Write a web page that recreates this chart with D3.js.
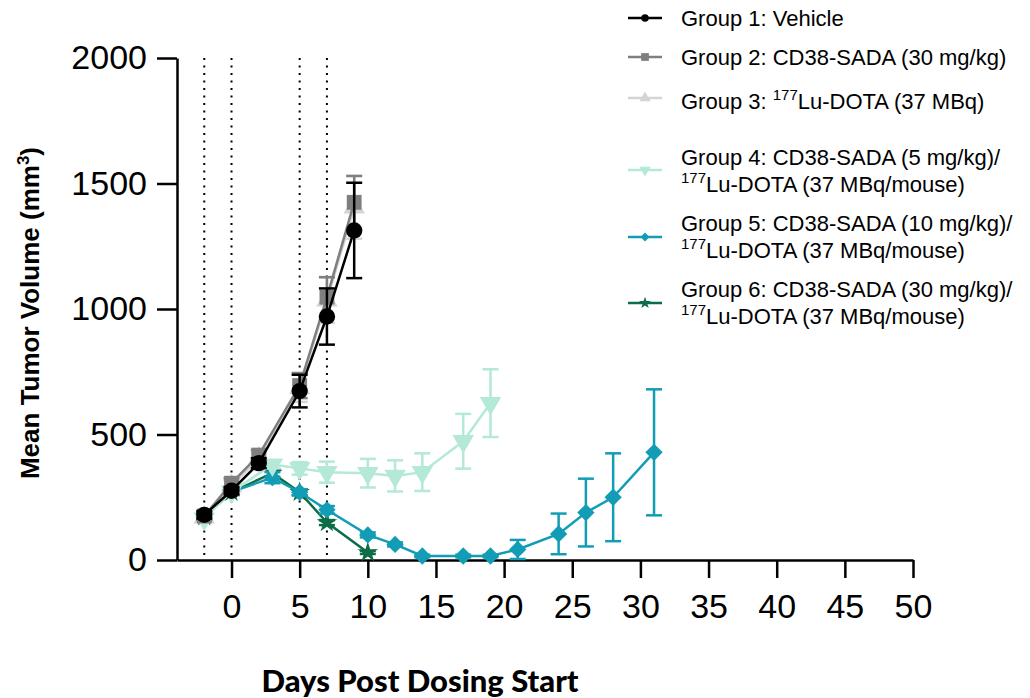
<!DOCTYPE html>
<html lang="en">
<head>
<meta charset="UTF-8">
<title>Mean Tumor Volume</title>
<script src="https://d3js.org/d3.v7.min.js"></script>
<style>
    body { margin: 0; background: #fff; }
    svg { display: block; }
    .axis text { font: 34px "Liberation Sans", Arial, sans-serif; fill: #000; }
    .axis path, .axis line { stroke: #000; stroke-width: 2.5px; }
    .legend text { font: 22px "Liberation Sans", Arial, sans-serif; fill: #000; }
</style>
</head>
<body>
<script>
    // Data (mean +/- SEM)
    const groupNames = [
        ["Group 1: Vehicle"],
        ["Group 2: CD38-SADA (30 mg/kg)"],
        ["Group 3: ", "177", "Lu-DOTA (37 MBq)"],
        ["Group 4: CD38-SADA (5 mg/kg)/", "177", "Lu-DOTA (37 MBq/mouse)"],
        ["Group 5: CD38-SADA (10 mg/kg)/", "177", "Lu-DOTA (37 MBq/mouse)"],
        ["Group 6: CD38-SADA (30 mg/kg)/", "177", "Lu-DOTA (37 MBq/mouse)"]
    ];
    const colors = ["#000000", "#7f7f7f", "#d4d4d4", "#b3e9d6", "#139cb5", "#0d6d48"];

    const days1 = [-2, 0, 2, 5, 7, 9];
    const mean1 = [180, 276, 386, 673, 970, 1313];
    const sem1 = [15, 15, 20, 65, 112, 190];

    const days2 = [-2, 0, 2, 5, 7, 9];
    const mean2 = [175, 306, 418, 695, 1047, 1425];
    const sem2 = [15, 20, 20, 50, 80, 105];

    const days3 = [-2, 0, 2, 5, 7, 9];
    const mean3 = [170, 295, 405, 685, 1035, 1405];
    const sem3 = [15, 20, 20, 55, 90, 125];

    const days4 = [-2, 0, 3, 5, 7, 10, 12, 14, 17, 19];
    const mean4 = [165, 272, 380, 365, 350, 346, 335, 350, 473, 625];
    const sem4 = [12, 15, 15, 25, 42, 57, 62, 75, 109, 135];

    const days5 = [-2, 0, 3, 5, 7, 10, 12, 14, 17, 19, 21, 24, 26, 28, 31];
    const mean5 = [170, 272, 328, 270, 200, 100, 62, 16, 16, 16, 42, 104, 189, 250, 429];
    const sem5 = [10, 12, 22, 12, 15, 10, 8, 5, 5, 5, 38, 81, 135, 175, 251];

    const days6 = [-2, 0, 3, 5, 7, 10];
    const mean6 = [172, 270, 346, 270, 149, 30];
    const sem6 = [10, 12, 15, 12, 10, 6];

    const xTicks = [0, 5, 10, 15, 20, 25, 30, 35, 40, 45, 50];
    const yTicks = [0, 500, 1000, 1500, 2000];
    const doseDays = [-2, 0, 5, 7];

    const width = 1030, height = 698;

    const series = [
        { days: days1, mean: mean1, sem: sem1, shape: d3.symbolCircle, size: 210, rot: 0 },
        { days: days2, mean: mean2, sem: sem2, shape: d3.symbolSquare, size: 220, rot: 0 },
        { days: days3, mean: mean3, sem: sem3, shape: d3.symbolTriangle, size: 200, rot: 0 },
        { days: days4, mean: mean4, sem: sem4, shape: d3.symbolTriangle, size: 200, rot: 180 },
        { days: days5, mean: mean5, sem: sem5, shape: d3.symbolSquare, size: 150, rot: 45 },
        { days: days6, mean: mean6, sem: sem6, shape: d3.symbolStar, size: 130, rot: 0 }
    ].map((s, i) => ({
        ...s,
        color: colors[i],
        points: s.days.map((d, j) => ({ day: d, mean: s.mean[j], sem: s.sem[j] }))
    }));

    const x = d3.scaleLinear().domain([-4, 50]).range([177, 913]);
    const y = d3.scaleLinear().domain([0, 2000]).range([560, 58]);

    const svg = d3.select("body").append("svg")
        .attr("width", width)
        .attr("height", height);

    // dosing days
    svg.append("g")
        .selectAll("line")
        .data(doseDays)
        .enter().append("line")
        .attr("x1", d => x(d))
        .attr("x2", d => x(d))
        .attr("y1", y(2000))
        .attr("y2", y(0))
        .attr("stroke", "#000")
        .attr("stroke-width", 2)
        .attr("stroke-dasharray", "2,5.5");

    // axes
    svg.append("g")
        .attr("class", "axis")
        .attr("transform", `translate(${x(-4)},0)`)
        .call(d3.axisLeft(y).tickValues(yTicks).tickFormat(d3.format("d"))
            .tickSize(20).tickSizeOuter(0).tickPadding(10));

    svg.append("g")
        .attr("class", "axis")
        .attr("transform", `translate(0,${y(0)})`)
        .call(d3.axisBottom(x).tickValues(xTicks).tickSize(18).tickSizeOuter(0).tickPadding(16));

    const line = d3.line().x(d => x(d.day)).y(d => y(d.mean));

    // draw last group first so Group 1 ends on top
    series.slice().reverse().forEach(s => {
        const g = svg.append("g");

        g.append("path")
            .datum(s.points)
            .attr("d", line)
            .attr("fill", "none")
            .attr("stroke", s.color)
            .attr("stroke-width", 2.5);

        const eb = g.selectAll(".eb")
            .data(s.points)
            .enter().append("g")
            .attr("stroke", s.color)
            .attr("stroke-width", 2.5);
        eb.append("line")
            .attr("x1", d => x(d.day)).attr("x2", d => x(d.day))
            .attr("y1", d => y(d.mean + d.sem)).attr("y2", d => y(Math.max(0, d.mean - d.sem)));
        eb.append("line")
            .attr("x1", d => x(d.day) - 8).attr("x2", d => x(d.day) + 8)
            .attr("y1", d => y(d.mean + d.sem)).attr("y2", d => y(d.mean + d.sem));
        eb.append("line")
            .attr("x1", d => x(d.day) - 8).attr("x2", d => x(d.day) + 8)
            .attr("y1", d => y(Math.max(0, d.mean - d.sem))).attr("y2", d => y(Math.max(0, d.mean - d.sem)));

        g.selectAll(".mk")
            .data(s.points)
            .enter().append("path")
            .attr("d", d3.symbol().type(s.shape).size(s.size))
            .attr("transform", d => `translate(${x(d.day)},${y(d.mean)}) rotate(${s.rot})`)
            .attr("fill", s.color);
    });

    // axis titles
    svg.append("text")
        .attr("x", 420)
        .attr("y", 692)
        .attr("text-anchor", "middle")
        .style("font", "900 31px Lato, 'Liberation Sans', sans-serif")
        .text("Days Post Dosing Start");

    const yTitle = svg.append("text")
        .attr("transform", "translate(39,313) rotate(-90)")
        .attr("text-anchor", "middle")
        .style("font", "bold 26px 'Liberation Sans', Arial, sans-serif");
    yTitle.append("tspan").text("Mean Tumor Volume (mm");
    yTitle.append("tspan").attr("dy", -10).style("font-size", "17px").text("3");
    yTitle.append("tspan").attr("dy", 10).text(")");

    // legend
    const legendSymY = [18, 57, 98, 170, 237, 303];
    const legendTextY = [18, 57, 101, 157, 223, 289];
    const legend = svg.append("g").attr("class", "legend");
    const legendSize = [45, 60, 55, 55, 40, 45];

    series.forEach((s, i) => {
        const row = legend.append("g");
        row.append("line")
            .attr("x1", 628).attr("x2", 662)
            .attr("y1", legendSymY[i]).attr("y2", legendSymY[i])
            .attr("stroke", s.color)
            .attr("stroke-width", 2.5);
        row.append("path")
            .attr("d", d3.symbol().type(s.shape).size(legendSize[i]))
            .attr("transform", `translate(645,${legendSymY[i]}) rotate(${s.rot})`)
            .attr("fill", s.color);

        const parts = groupNames[i];
        const t = row.append("text")
            .attr("x", 681)
            .attr("y", legendTextY[i] + 8);
        if (parts.length === 1) {
            t.text(parts[0]);
        } else if (i === 2) {
            t.append("tspan").text(parts[0]);
            t.append("tspan").attr("dy", -9).style("font-size", "15px").text(parts[1]);
            t.append("tspan").attr("dy", 9).text(parts[2]);
        } else {
            t.append("tspan").text(parts[0]);
            t.append("tspan").attr("x", 681).attr("dy", 18).style("font-size", "15px").text(parts[1]);
            t.append("tspan").attr("dy", 9).text(parts[2]);
        }
    });
</script>
</body>
</html>
